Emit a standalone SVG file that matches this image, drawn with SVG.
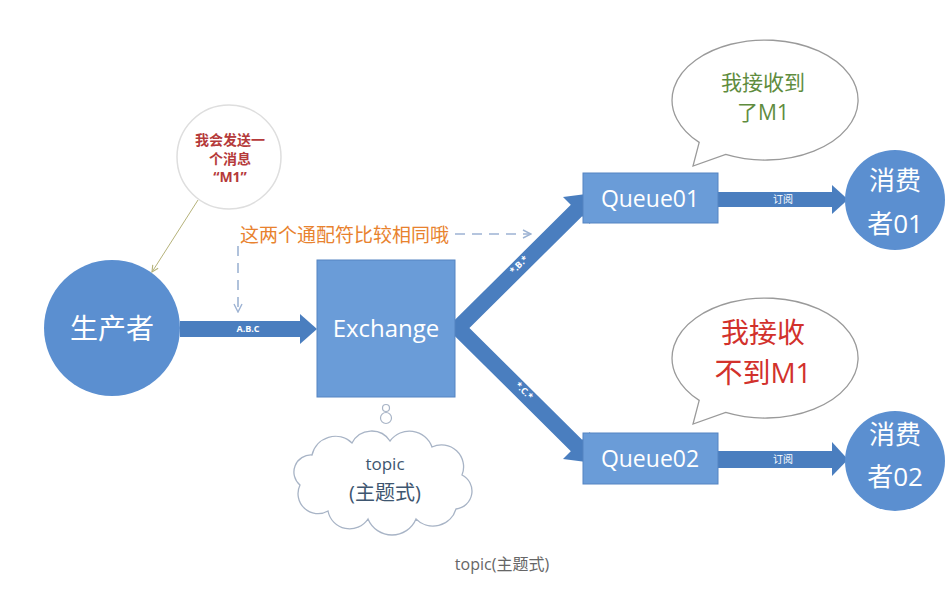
<svg xmlns="http://www.w3.org/2000/svg" width="952" height="592" viewBox="0 0 952 592">
<defs>
<style>
.cjk{font-family:"Open Sans","Noto Sans CJK SC",sans-serif}
.w{fill:#ffffff}
.blue{fill:#5b8fd0}
.rect{fill:#6a9cd8;stroke:#5584c2;stroke-width:1}
.arr{fill:#4a7ebf}
.bubble{fill:#ffffff;stroke:#9a9a9a;stroke-width:1.3}
.dash{fill:none;stroke:#9db3d3;stroke-width:1.6;stroke-dasharray:10 7}
</style>
<marker id="dah" viewBox="0 0 10 10" refX="9" refY="5" markerWidth="10" markerHeight="10" markerUnits="userSpaceOnUse" orient="auto">
<path d="M1,1 L9,5 L1,9" fill="none" stroke="#9db3d3" stroke-width="1.4"/>
</marker>
<marker id="nah" viewBox="0 0 10 10" refX="9" refY="5" markerWidth="8" markerHeight="8" markerUnits="userSpaceOnUse" orient="auto">
<path d="M1,1 L9,5 L1,9" fill="none" stroke="#b5b27a" stroke-width="1.4"/>
</marker>
</defs>
<rect width="952" height="592" fill="#ffffff"/>

<g id="connectors">
<line x1="198" y1="200" x2="152" y2="272" stroke="#b5b27a" stroke-width="1" marker-end="url(#nah)"/>
<rect x="180" y="321" width="122" height="16" class="arr"/>
<polygon points="300,314 317,329 300,344" class="arr"/>
<text x="248" y="332" class="cjk w" font-size="9" font-weight="bold" text-anchor="middle">A.B.C</text>
<polyline points="577,210 458,328 577,446" fill="none" stroke="#4a7ebf" stroke-width="16" stroke-linejoin="miter"/>
<polygon points="594,193 590,224 563,197" class="arr"/>
<polygon points="594,463 590,432 563,459" class="arr"/>
<text x="0" y="0" class="cjk w" font-size="9" font-weight="bold" text-anchor="middle" transform="translate(521,267) rotate(-45)">*.B.*</text>
<text x="0" y="0" class="cjk w" font-size="9" font-weight="bold" text-anchor="middle" transform="translate(522,393) rotate(45)">*.C.*</text>
<rect x="717" y="192" width="118" height="15" class="arr"/>
<polygon points="832,185 848,199.5 832,214" class="arr"/>
<text x="783" y="203" class="cjk w" font-size="10" text-anchor="middle">订阅</text>
<rect x="717" y="451" width="118" height="17" class="arr"/>
<polygon points="832,442 848,459.5 832,476" class="arr"/>
<text x="783" y="463" class="cjk w" font-size="10" text-anchor="middle">订阅</text>
<line x1="455" y1="234" x2="531" y2="234" class="dash" marker-end="url(#dah)"/>
<line x1="238" y1="246" x2="238" y2="312" class="dash" marker-end="url(#dah)"/>
</g>

<g id="note">
<circle cx="229" cy="157" r="52" fill="#ffffff" stroke="#dedede" stroke-width="1.5"/>
<text x="230" y="145" class="cjk" font-size="14" font-weight="bold" fill="#b53a3a" text-anchor="middle">我会发送一</text>
<text x="230" y="164" class="cjk" font-size="14" font-weight="bold" fill="#b53a3a" text-anchor="middle">个消息</text>
<text x="230" y="182" class="cjk" font-size="14" font-weight="bold" fill="#b53a3a" text-anchor="middle">“M1”</text>
</g>

<g id="hint">
<text x="240" y="242" class="cjk" font-size="19" fill="#e8822e">这两个通配符比较相同哦</text>
</g>

<g id="producer">
<circle cx="112" cy="328" r="68" class="blue"/>
<text x="112" y="339" class="cjk w" font-size="28" text-anchor="middle">生产者</text>
</g>

<g id="exchange">
<rect x="317" y="260" width="138" height="137" class="rect"/>
<text x="386" y="337" class="cjk w" font-size="24" text-anchor="middle">Exchange</text>
</g>

<g id="topic">
<circle cx="386" cy="408" r="3.5" fill="#ffffff" stroke="#a8b4c6" stroke-width="1.2"/>
<circle cx="386" cy="418" r="5.5" fill="#ffffff" stroke="#a8b4c6" stroke-width="1.2"/>
<path d="M300 485 a17 17 0 0 1 12 -30 a24 24 0 0 1 40 -12 a22 22 0 0 1 38 -2 a24 24 0 0 1 42 6 a22 22 0 0 1 30 28 a18 18 0 0 1 -6 34 a24 24 0 0 1 -40 10 a26 26 0 0 1 -48 0 a22 22 0 0 1 -40 -8 a20 20 0 0 1 -28 -26 Z" fill="#ffffff" stroke="#a8b4c6" stroke-width="1.3"/>
<text x="385" y="470" class="cjk" font-size="17" fill="#3e5670" text-anchor="middle">topic</text>
<text x="385" y="500" class="cjk" font-size="20" fill="#3e5670" text-anchor="middle">(主题式)</text>
</g>

<g id="queue01">
<rect x="583" y="173" width="135" height="50" class="rect"/>
<text x="650" y="207" class="cjk w" font-size="23" text-anchor="middle">Queue01</text>
</g>

<g id="queue02">
<rect x="583" y="433" width="135" height="51" class="rect"/>
<text x="650" y="467" class="cjk w" font-size="23" text-anchor="middle">Queue02</text>
</g>

<g id="consumer01">
<circle cx="895" cy="200" r="50" class="blue"/>
<text x="895" y="190" class="cjk w" font-size="26" text-anchor="middle">消费</text>
<text x="895" y="233" class="cjk w" font-size="26" text-anchor="middle">者01</text>
</g>

<g id="consumer02">
<circle cx="895" cy="461" r="50" class="blue"/>
<text x="895" y="444" class="cjk w" font-size="26" text-anchor="middle">消费</text>
<text x="895" y="486" class="cjk w" font-size="26" text-anchor="middle">者02</text>
</g>

<g id="bubble01">
<path d="M725.7 154.4 A93 60 0 1 0 699.2 142.4 L693 166 Z" class="bubble"/>
<text x="763" y="90" class="cjk" font-size="21" fill="#5f8c3e" text-anchor="middle">我接收到</text>
<text x="763" y="120" class="cjk" font-size="21" fill="#5f8c3e" text-anchor="middle">了M1</text>
</g>

<g id="bubble02">
<path d="M725.7 412.4 A93 60 0 1 0 699.2 400.4 L693 424 Z" class="bubble"/>
<text x="763" y="343" class="cjk" font-size="28" fill="#d2312c" text-anchor="middle">我接收</text>
<text x="763" y="383" class="cjk" font-size="28" fill="#d2312c" text-anchor="middle">不到M1</text>
</g>

<g id="caption">
<text x="502" y="570" class="cjk" font-size="16" fill="#666666" text-anchor="middle">topic(主题式)</text>
</g>
</svg>
